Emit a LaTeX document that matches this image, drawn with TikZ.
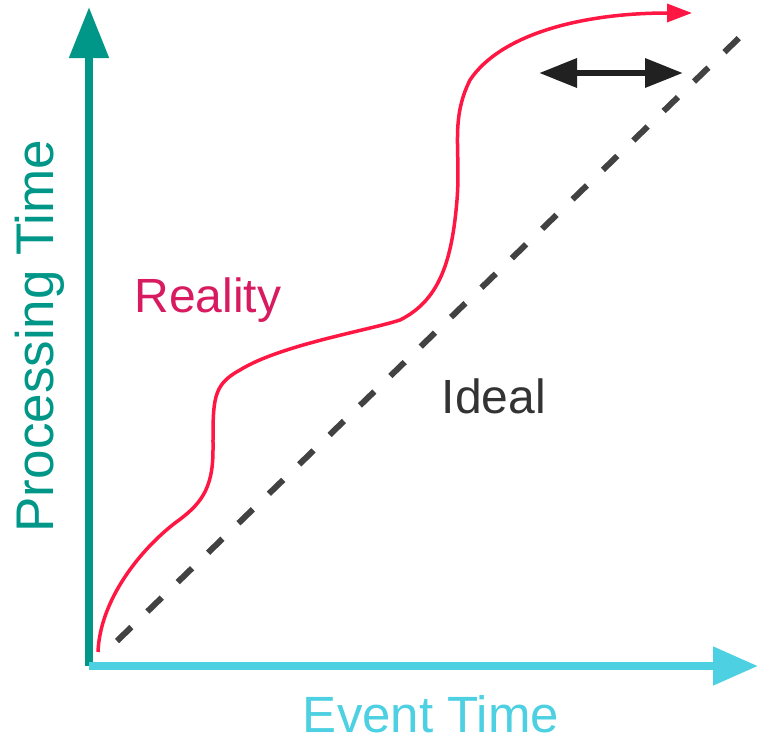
\documentclass[tikz,border=0pt]{standalone}
\usepackage{fontspec}
\setmainfont{Liberation Sans}
\usetikzlibrary{arrows.meta}
\definecolor{tealc}{RGB}{0,150,136}
\definecolor{cyanc}{RGB}{77,208,225}
\definecolor{curvec}{RGB}{255,23,68}
\definecolor{realc}{RGB}{216,27,96}
\definecolor{idealc}{RGB}{51,51,51}
\definecolor{dashc}{RGB}{66,66,66}
\definecolor{darrc}{RGB}{33,33,33}
\tikzset{
  lbl/.style={inner sep=0pt, anchor=base},
  axisline/.style={line width=8pt},
  idealline/.style={dashc, line width=6pt, dash pattern=on 20pt off 22.3pt},
  realline/.style={curvec, line width=3.5pt, -{Triangle[length=25pt,width=18pt]}},
  lagarrow/.style={darrc, line width=6.5pt, {Triangle[length=38pt,width=28pt]}-{Triangle[length=38pt,width=28pt]}}
}
\begin{document}
\begin{tikzpicture}[x=1pt,y=-1pt]
\useasboundingbox (0,0) rectangle (759,742);
% coordinates
\coordinate (O) at (89,666);
\coordinate (ytip) at (89,7);
\coordinate (xtip) at (758,666);
\coordinate (ds) at (117,641);
\coordinate (de) at (740,37);
\coordinate (rs) at (98,652);
\coordinate (re) at (692,13);
\coordinate (la) at (539,73);
\coordinate (lb) at (683,73);
% axes
\draw[axisline, tealc, -{Triangle[length=51pt,width=38pt]}] (O) -- (ytip);
\draw[axisline, cyanc, -{Triangle[length=45pt,width=37pt]}] (O) -- (xtip);
% ideal
\draw[idealline] (ds) -- (de);
% reality curve
\draw[realline] (rs) .. controls (100,600) and (140,550) .. (175,523)
  .. controls (200,505) and (213,490) .. (213,450)
  .. controls (213,400) and (212,385) .. (240,370)
  .. controls (280,345) and (370,330) .. (400,320)
  .. controls (440,300) and (452,260) .. (457,200)
  .. controls (461,150) and (450,120) .. (470,80)
  .. controls (500,35) and (580,13) .. (re);
% lag arrow
\draw[lagarrow] (la) -- (lb);
% labels
\node[lbl, tealc, rotate=90, font=\fontsize{53}{60}\selectfont] (ptime) at (53,336) {Processing Time};
\node[lbl, cyanc, font=\fontsize{51}{60}\selectfont] (etime) at (431,732) {Event Time};
\node[lbl, realc, font=\fontsize{48}{56}\selectfont] (reality) at (208,312) {Reality};
\node[lbl, idealc, font=\fontsize{48}{56}\selectfont] (ideal) at (494,413) {Ideal};
\end{tikzpicture}
\end{document}
